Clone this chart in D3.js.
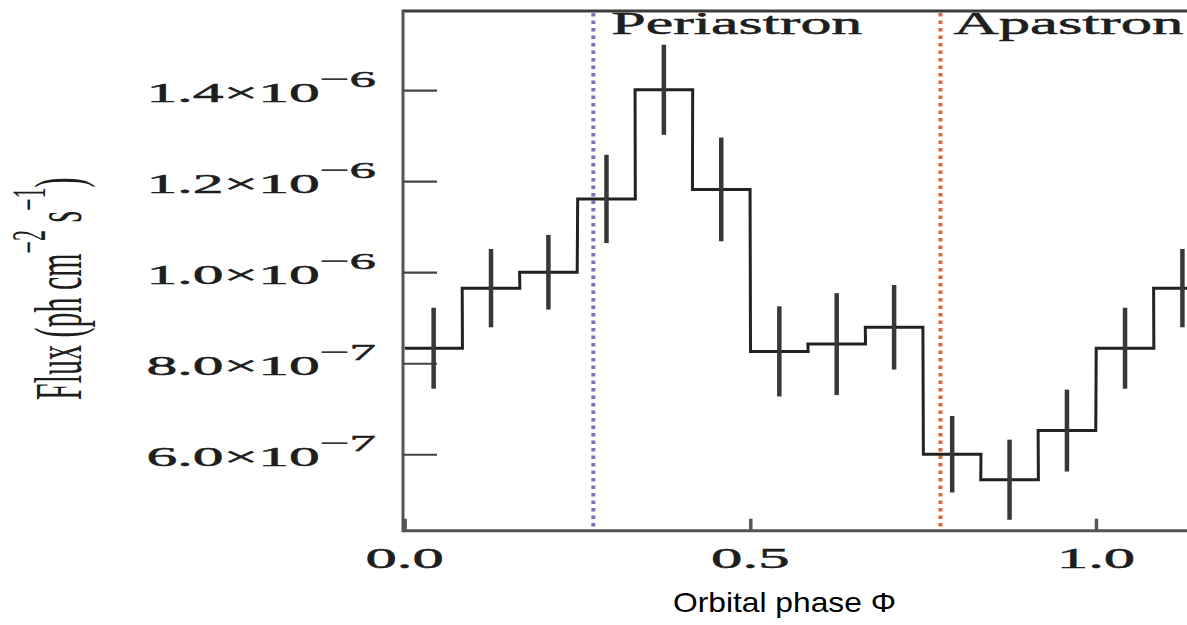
<!DOCTYPE html>
<html>
<head>
<meta charset="utf-8">
<script src="https://cdn.jsdelivr.net/npm/d3@7"></script>
<style>
  html, body { margin: 0; padding: 0; background: #fff; }
  svg { display: block; }
</style>
</head>
<body>
<svg id="chart" width="1187" height="625"></svg>
<script>
// ---------------- data ----------------
const phase   = [0.042, 0.125, 0.208, 0.292, 0.375, 0.458, 0.542, 0.625, 0.708, 0.792, 0.875, 0.958, 1.042, 1.125];
const flux    = [8.33e-7, 9.65e-7, 1.000e-6, 1.161e-6, 1.401e-6, 1.182e-6, 8.26e-7, 8.42e-7, 8.79e-7, 6.00e-7, 5.44e-7, 6.52e-7, 8.33e-7, 9.65e-7];
const fluxErr = [0.89e-7, 0.86e-7, 0.82e-7, 0.97e-7, 0.99e-7, 1.14e-7, 0.99e-7, 1.12e-7, 0.93e-7, 0.84e-7, 0.88e-7, 0.90e-7, 0.89e-7, 0.86e-7];
const binWidth = 1 / 12;

const markers      = [0.273, 0.775];
const markerLabels = ["Periastron", "Apastron"];

const xTicks       = [0.0, 0.5, 1.0];
const xTickLabels  = ["0.0", "0.5", "1.0"];
const yTicks       = [6e-7, 8e-7, 1.0e-6, 1.2e-6, 1.4e-6];
const yTickMant    = ["6.0", "8.0", "1.0", "1.2", "1.4"];
const yTickExp     = ["\u22127", "\u22127", "\u22126", "\u22126", "\u22126"];

const xTitle = "Orbital phase \u03A6";

// ---------------- layout ----------------
const svg = d3.select("#chart");
const W = 1187, H = 625;
const plotLeft = 403, plotTop = 11, plotBottom = 530.7;
const pxPerPhase = 691.4;
const xDomain = [-0.0023, 1.30];
const x = d3.scaleLinear().domain(xDomain).range([plotLeft, plotLeft + (xDomain[1] - xDomain[0]) * pxPerPhase]);
const y = d3.scaleLinear().domain([4.32e-7, 1.574e-6]).range([plotBottom, plotTop]);

const serif = "'Liberation Serif', 'Times New Roman', Times, serif";
const stretch = 2.2;
const ink = "#1e1e1e";

// frame
const gFrame = svg.append("g");
gFrame.append("line").attr("x1", x(xDomain[0])).attr("x2", W + 5).attr("y1", plotTop).attr("y2", plotTop)
  .attr("stroke", "#3c3c3c").attr("stroke-width", 3);
gFrame.append("line").attr("x1", x(xDomain[0])).attr("x2", W + 5).attr("y1", plotBottom).attr("y2", plotBottom)
  .attr("stroke", "#555").attr("stroke-width", 3);
gFrame.append("line").attr("x1", x(xDomain[0])).attr("x2", x(xDomain[0])).attr("y1", plotTop - 1.5).attr("y2", plotBottom + 1.5)
  .attr("stroke", "#555").attr("stroke-width", 3);

// y ticks (inward) via d3 axis
const yAxis = d3.axisRight(y).tickValues(yTicks).tickSize(34).tickFormat("");
const gy = svg.append("g").attr("transform", `translate(${x(xDomain[0])},0)`).call(yAxis);
gy.select(".domain").remove();
gy.selectAll(".tick line").attr("stroke", "#444").attr("stroke-width", 2.2);

// x ticks (inward) via d3 axis
const xAxis = d3.axisTop(x).tickValues(xTicks).tickSize(12).tickFormat("");
const gx = svg.append("g").attr("transform", `translate(0,${plotBottom})`).call(xAxis);
gx.select(".domain").remove();
gx.selectAll(".tick line").attr("stroke", "#555").attr("stroke-width", 3.5);

// y tick labels (stretched serif with superscript exponent)
yTicks.forEach((v, i) => {
  const g = svg.append("g").attr("transform", `translate(376,${y(v) + 11.4}) scale(${stretch},1)`);
  const t = g.append("text").attr("text-anchor", "end").attr("font-family", serif)
    .attr("fill", ink).attr("stroke", ink).attr("stroke-width", 0.5);
  t.append("tspan").attr("font-size", 28).text(yTickMant[i] + "\u00D710");
  t.append("tspan").attr("font-size", 24).attr("dy", -15).text(yTickExp[i]);
});

// x tick labels
xTicks.forEach((v, i) => {
  svg.append("g").attr("transform", `translate(${x(v)},568) scale(${stretch},1)`)
    .append("text").attr("text-anchor", "middle").attr("font-family", serif)
    .attr("font-size", 28.5).attr("fill", ink).attr("stroke", ink).attr("stroke-width", 0.5)
    .text(xTickLabels[i]);
});

// marker dotted lines
const markerColors = ["#7478b4", "#e2633f"];
markers.forEach((m, i) => {
  svg.append("line").attr("x1", x(m)).attr("x2", x(m)).attr("y1", plotTop + 2).attr("y2", plotBottom - 1)
    .attr("stroke", markerColors[i]).attr("stroke-width", 4).attr("stroke-dasharray", "3.5,4");
});

// marker labels
const labelOffsets = [18, 13];
const labelWidths = [251, 230];
markers.forEach((m, i) => {
  svg.append("text").attr("x", x(m) + labelOffsets[i]).attr("y", 34)
    .attr("font-family", serif).attr("font-size", 31).attr("fill", ink)
    .attr("stroke", ink).attr("stroke-width", 0.5)
    .attr("textLength", labelWidths[i]).attr("lengthAdjust", "spacingAndGlyphs")
    .text(markerLabels[i]);
});

// step histogram
const stepPts = [];
phase.forEach((p, i) => {
  stepPts.push([p - binWidth / 2, flux[i]]);
  stepPts.push([p + binWidth / 2, flux[i]]);
});
const line = d3.line().x(d => x(d[0])).y(d => y(d[1]));
svg.append("path").attr("d", line(stepPts)).attr("fill", "none")
  .attr("stroke", "#222").attr("stroke-width", 3).attr("stroke-linejoin", "miter");

// error bars
svg.append("g").selectAll("line").data(phase).join("line")
  .attr("x1", d => x(d)).attr("x2", d => x(d))
  .attr("y1", (d, i) => y(flux[i] + fluxErr[i]))
  .attr("y2", (d, i) => y(flux[i] - fluxErr[i]))
  .attr("stroke", "#383838").attr("stroke-width", 4.5);

// y axis title (rotated, stretched across the baseline)
const gt = svg.append("g").attr("transform", "translate(81,400) rotate(-90) scale(1,2.25)");
const tt = gt.append("text").attr("font-family", serif).attr("fill", ink);
tt.append("tspan").attr("font-size", 30).text("Flux (ph cm");
tt.append("tspan").attr("font-size", 22).attr("dy", -16).text("\u22122");
tt.append("tspan").attr("font-size", 30).attr("dy", 16).text(" s");
tt.append("tspan").attr("font-size", 22).attr("dy", -16).text("\u22121");
tt.append("tspan").attr("font-size", 30).attr("dy", 16).text(")");

// x axis title
svg.append("text").attr("x", 673).attr("y", 612)
  .attr("font-family", "'Liberation Sans', Arial, sans-serif").attr("font-size", 28).attr("fill", "#000")
  .attr("textLength", 223).attr("lengthAdjust", "spacingAndGlyphs")
  .text(xTitle);
</script>
</body>
</html>
